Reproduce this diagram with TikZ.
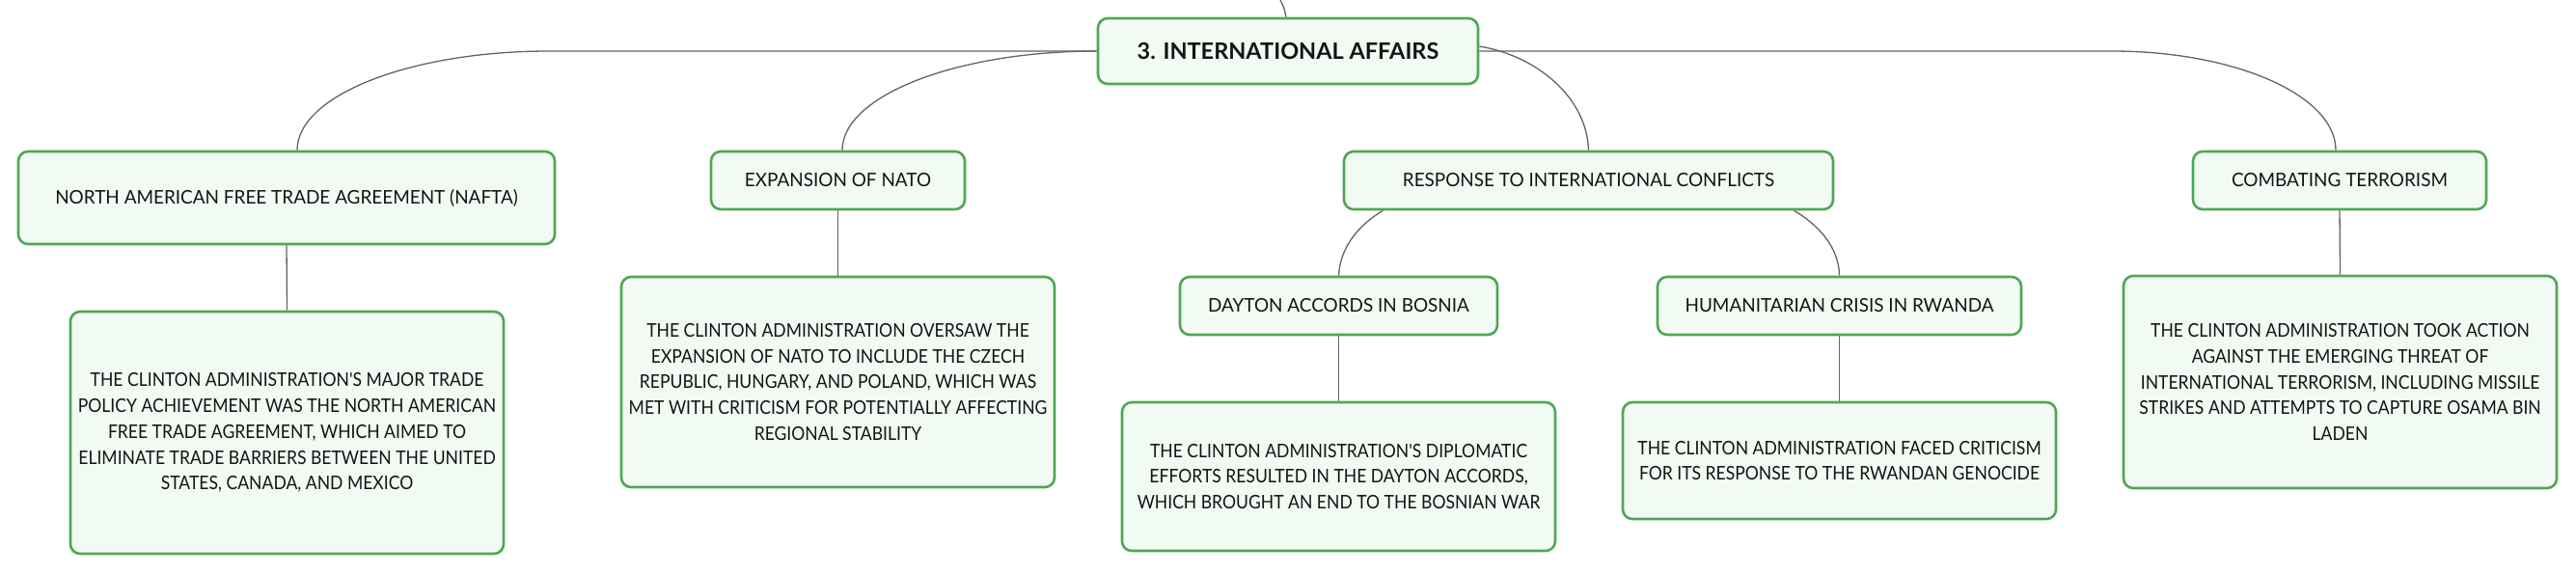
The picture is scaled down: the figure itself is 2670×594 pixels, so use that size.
\documentclass[tikz,border=0pt]{standalone}
\usepackage{fontspec}
\setmainfont{Lato}
\newfontfamily\descfont{Lato}[FakeStretch=0.9]
\newfontfamily\headfont{Lato}[FakeStretch=0.97]
\usetikzlibrary{backgrounds}
\definecolor{boxgreen}{RGB}{78,168,84}
\definecolor{boxfill}{RGB}{242,250,244}
\definecolor{linegray}{RGB}{100,100,100}
\definecolor{txt}{RGB}{20,20,20}
\tikzset{
  mbox/.style={draw=boxgreen, line width=2.6pt, fill=boxfill, rounded corners=10pt,
    inner sep=0pt, align=center, text=txt, font=\headfont\fontsize{19.5}{26.8}\selectfont},
  dbox/.style={mbox, font=\descfont\fontsize{19.5}{26.8}\selectfont},
  rootbox/.style={mbox, font=\rmfamily\fontsize{23.5}{28}\selectfont\bfseries},
  conn/.style={draw=linegray, line width=1.3pt}
}
\begin{document}
\begin{tikzpicture}[x=1pt,y=-1pt]
\useasboundingbox (0,0) rectangle (2670,594);
% nodes
\node[rootbox, minimum width=394, minimum height=68] (root) at (1335,53) {3. INTERNATIONAL AFFAIRS};
\node[mbox, minimum width=556, minimum height=96] (nafta) at (297,205) {NORTH AMERICAN FREE TRADE AGREEMENT (NAFTA)};
\node[mbox, minimum width=263, minimum height=60] (nato) at (868.5,187) {EXPANSION OF NATO};
\node[mbox, minimum width=507, minimum height=60] (resp) at (1646.5,187) {RESPONSE TO INTERNATIONAL CONFLICTS};
\node[mbox, minimum width=304, minimum height=60] (comb) at (2425,187) {COMBATING TERRORISM};
\node[dbox, minimum width=449, minimum height=251] (naftad) at (297.5,448.5) {THE CLINTON ADMINISTRATION'S MAJOR TRADE\\POLICY ACHIEVEMENT WAS THE NORTH AMERICAN\\FREE TRADE AGREEMENT, WHICH AIMED TO\\ELIMINATE TRADE BARRIERS BETWEEN THE UNITED\\STATES, CANADA, AND MEXICO};
\node[dbox, minimum width=449, minimum height=218] (natod) at (868.5,396) {THE CLINTON ADMINISTRATION OVERSAW THE\\EXPANSION OF NATO TO INCLUDE THE CZECH\\REPUBLIC, HUNGARY, AND POLAND, WHICH WAS\\MET WITH CRITICISM FOR POTENTIALLY AFFECTING\\REGIONAL STABILITY};
\node[mbox, minimum width=329, minimum height=60] (dayton) at (1387.5,317) {DAYTON ACCORDS IN BOSNIA};
\node[mbox, minimum width=377, minimum height=60] (rwanda) at (1906.5,317) {HUMANITARIAN CRISIS IN RWANDA};
\node[dbox, minimum width=449, minimum height=154] (daytond) at (1387.5,494) {THE CLINTON ADMINISTRATION'S DIPLOMATIC\\EFFORTS RESULTED IN THE DAYTON ACCORDS,\\WHICH BROUGHT AN END TO THE BOSNIAN WAR};
\node[dbox, minimum width=449, minimum height=121] (rwandad) at (1906.5,477.5) {THE CLINTON ADMINISTRATION FACED CRITICISM\\FOR ITS RESPONSE TO THE RWANDAN GENOCIDE};
\node[dbox, minimum width=449, minimum height=220] (combd) at (2425.5,396) {THE CLINTON ADMINISTRATION TOOK ACTION\\AGAINST THE EMERGING THREAT OF\\INTERNATIONAL TERRORISM, INCLUDING MISSILE\\STRIKES AND ATTEMPTS TO CAPTURE OSAMA BIN\\LADEN};
\coordinate (up) at (1327,0);
% connectors
\begin{scope}[on background layer]
\fill[white] (0,0) rectangle (2670,594);
\draw[conn] (up) .. controls (1331,8) .. ([xshift=-2pt]root.north);
\draw[conn] (root.west) -- (569,53) .. controls (425,53) and (308,99) .. ([xshift=11pt]nafta.north);
\draw[conn] (root.west) .. controls (992,53) and (873,99) .. ([xshift=4.5pt]nato.north);
\draw[conn] (root.east) -- (2189,53) .. controls (2317,53) and (2421,99) .. ([xshift=-4pt]comb.north);
\draw[conn] ([yshift=5pt]root.east) .. controls (1594,58) and (1645,102) .. (resp.north);
\draw[conn] ([xshift=-213pt]resp.south) .. controls (1410,232) and (1389,255) .. (dayton.north);
\draw[conn] ([xshift=213pt]resp.south) .. controls (1883,232) and (1906,255) .. (rwanda.north);
\draw[conn] (nafta.south) -- (naftad.north);
\draw[conn] (nato.south) -- (natod.north);
\draw[conn] (comb.south) -- (combd.north);
\draw[conn] (dayton.south) -- (daytond.north);
\draw[conn] (rwanda.south) -- (rwandad.north);
\end{scope}
\end{tikzpicture}
\end{document}
